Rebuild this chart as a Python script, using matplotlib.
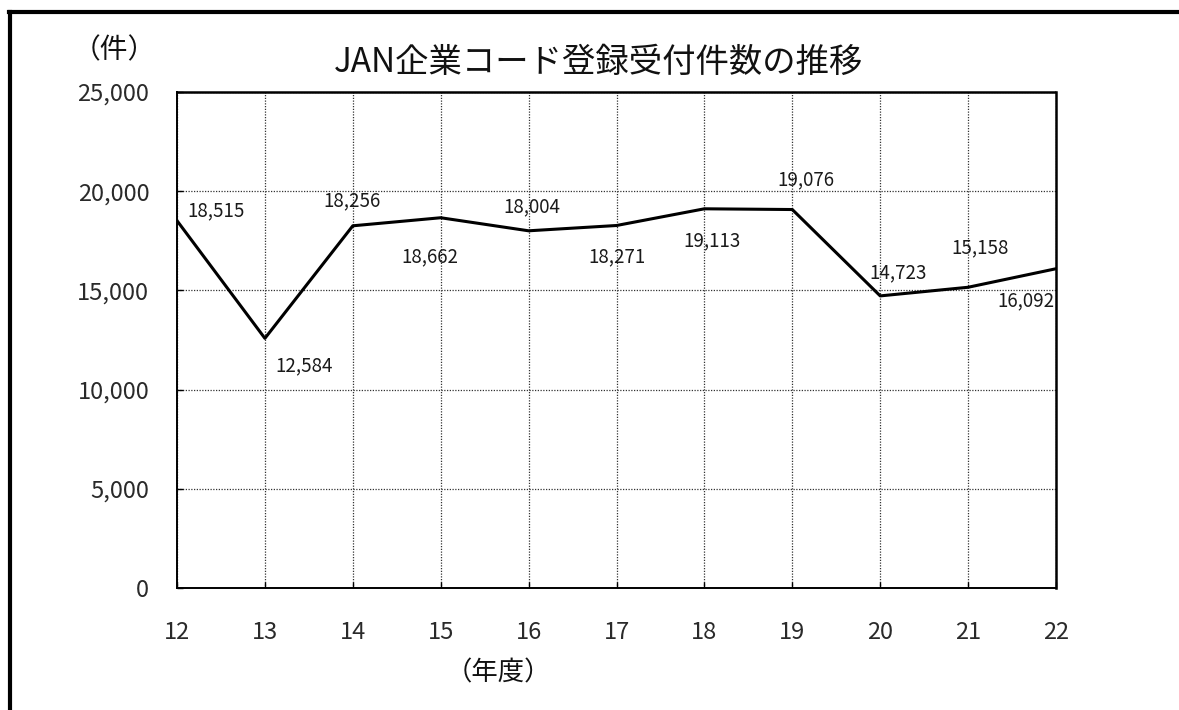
import matplotlib
matplotlib.use("Agg")
import matplotlib.pyplot as plt
from matplotlib.lines import Line2D

plt.rcParams['font.family'] = ['Noto Sans CJK JP', 'DejaVu Sans']

# 年度と受付件数
years = [12, 13, 14, 15, 16, 17, 18, 19, 20, 21, 22]
counts = [18515, 12584, 18256, 18662, 18004, 18271, 19113, 19076, 14723, 15158, 16092]
yticks = [0, 5000, 10000, 15000, 20000, 25000]
ytick_labels = ["0", "5,000", "10,000", "15,000", "20,000", "25,000"]

# label offsets (pixels) from each point
label_offsets = [(39, 10), (39, -27), (-1, 25), (-11, -39), (3, 24), (1, -31),
                 (8, -32), (14, 30), (18, 23), (12, 39), (-30, -32)]

fig = plt.figure(figsize=(11.79, 7.10), dpi=100)
ax = fig.add_axes([177/1179, 1 - 588/710, (1056-177)/1179, (588-92)/710])

ax.plot(years, counts, color='black', linewidth=2.2)

for x, y, (dx, dy) in zip(years, counts, label_offsets):
    ax.annotate(f"{y:,}", (x, y), xytext=(dx, dy), textcoords='offset pixels',
                ha='center', va='center', fontsize=13.5, color='#1a1a1a')

ax.set_xlim(12, 22)
ax.set_ylim(0, 25000)
ax.set_xticks(years)
ax.set_xticklabels([str(y) for y in years])
ax.set_yticks(yticks)
ax.set_yticklabels(ytick_labels)

ax.grid(True, color='#333333', linestyle=(0, (1, 1.2)), linewidth=0.9)
ax.tick_params(axis='both', direction='in', length=4, width=1, labelsize=17,
               colors='black', labelcolor='#2a2a2a')
ax.tick_params(axis='x', pad=24)
ax.tick_params(axis='y', pad=20)

for side in ['left', 'bottom']:
    ax.spines[side].set_linewidth(1.4)
for side in ['top', 'right']:
    ax.spines[side].set_linestyle((0, (1, 1)))
    ax.spines[side].set_linewidth(1.8)

fig.text(0.508, 1 - 62/710, "JAN企業コード登録受付件数の推移", ha='center', va='center',
         fontsize=24, color='#111111')
fig.text(114/1179, 1 - 50/710, "（件）", ha='center', va='center', fontsize=20, color='#111111')
fig.text(498/1179, 1 - 673/710, "（年度）", ha='center', va='center', fontsize=19, color='#111111')

# outer frame (left and top only)
fig.add_artist(Line2D([10/1179, 10/1179], [0, 1 - 12/710], transform=fig.transFigure,
                      color='black', linewidth=3))
fig.add_artist(Line2D([9/1179, 1], [1 - 12/710, 1 - 12/710], transform=fig.transFigure,
                      color='black', linewidth=3))

fig.savefig("out.png", dpi=100, facecolor='white')
